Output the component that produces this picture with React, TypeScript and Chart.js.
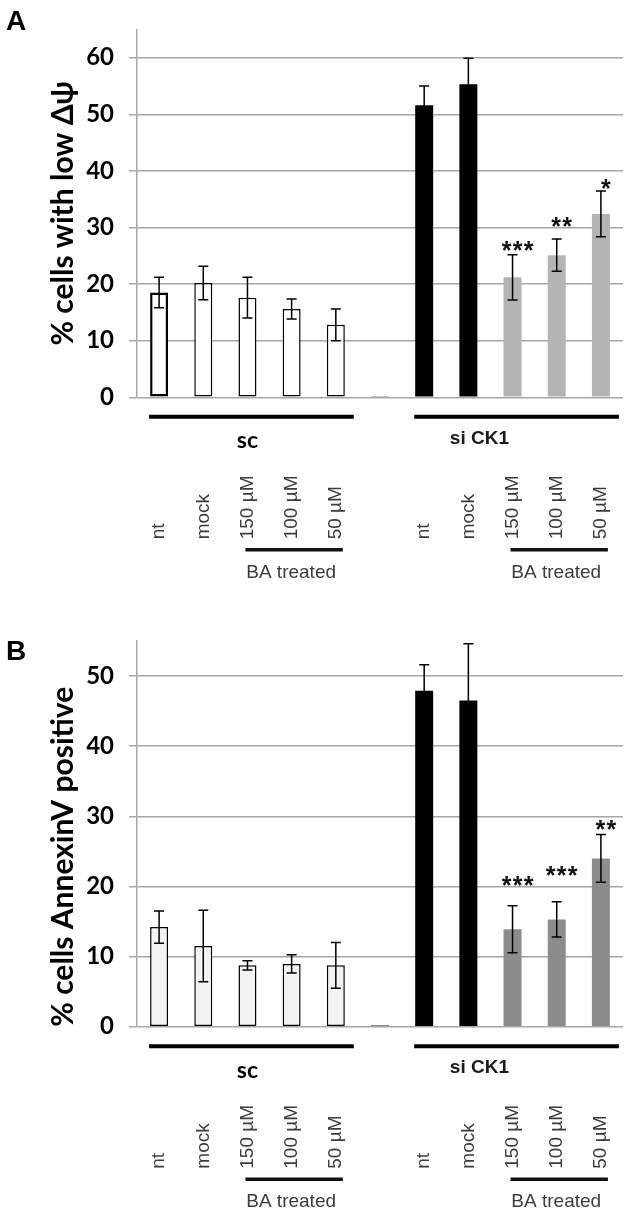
import React, { useEffect, useRef } from 'react';
import { Chart, registerables } from 'chart.js';

Chart.register(...registerables);

// ---------- data ----------
const categories = ['nt', 'mock', '150 µM', '100 µM', '50 µM', '', 'nt', 'mock', '150 µM', '100 µM', '50 µM'];
const groupNames = ['sc', 'si CK1'];
const groupRanges = [[0, 4], [6, 10]];
const treatedLabel = 'BA treated';
const treatedRanges = [[2, 4], [8, 10]];

const valuesA = [18.5, 20.2, 17.6, 15.6, 12.8, 0.25, 51.6, 55.3, 21.2, 25.1, 32.4];
const errorsA = [2.7, 2.95, 3.6, 1.75, 2.8, 0, 3.4, 4.6, 4.0, 2.85, 4.05];
const starsA = ['', '', '', '', '', '', '', '', '***', '**', '*'];
const starLevelsA = [0, 0, 0, 0, 0, 0, 0, 0, 27.0, 31.3, 38.1];
const yTicksA = [0, 10, 20, 30, 40, 50, 60];

const valuesB = [14.2, 11.5, 8.75, 8.95, 8.75, 0.25, 47.9, 46.5, 13.9, 15.3, 24.0];
const errorsB = [2.3, 5.1, 0.65, 1.3, 3.25, 0, 3.7, 8.1, 3.35, 2.5, 3.4];
const starsB = ['', '', '', '', '', '', '', '', '***', '***', '**'];
const starLevelsB = [0, 0, 0, 0, 0, 0, 0, 0, 21.0, 22.5, 29.1];
const yTicksB = [0, 10, 20, 30, 40, 50];

// ---------- styles ----------
const GRID = '#a6a6a6';
const ARIAL = '"Liberation Sans", Arial, sans-serif';
const LATO = 'Lato, "Open Sans", sans-serif';

function makeAnnotPlugin(cfg: any) {
  return {
    id: 'annot' + cfg.letter,
    afterDraw(chart: any) {
      const ctx = chart.ctx;
      const xs = chart.scales.x;
      const ys = chart.scales.y;
      const meta = chart.getDatasetMeta(0);
      const base = chart.chartArea.bottom;
      ctx.save();
      // error bars
      ctx.strokeStyle = '#000';
      ctx.lineWidth = 1.5;
      cfg.values.forEach((v: number, i: number) => {
        const e = cfg.errors[i];
        if (!e) return;
        const x = meta.data[i].x;
        const yt = ys.getPixelForValue(v + e);
        const yb = ys.getPixelForValue(v - e);
        ctx.beginPath();
        ctx.moveTo(x, yt); ctx.lineTo(x, yb);
        ctx.moveTo(x - 5, yt); ctx.lineTo(x + 5, yt);
        ctx.moveTo(x - 5, yb); ctx.lineTo(x + 5, yb);
        ctx.stroke();
      });
      // stars (each asterisk spaced like the original)
      const starSize = 25;
      const starGap = 11;
      ctx.fillStyle = '#111';
      ctx.font = `bold ${starSize}px ${ARIAL}`;
      ctx.textAlign = 'center';
      ctx.textBaseline = 'alphabetic';
      cfg.stars.forEach((s: string, i: number) => {
        if (!s) return;
        const cx = meta.data[i].x + 5;
        const y = ys.getPixelForValue(cfg.starLevels[i]) + 0.6 * starSize;
        const n = s.length;
        for (let k = 0; k < n; k++) {
          ctx.fillText('*', cx + (k - (n - 1) / 2) * starGap, y);
        }
      });
      // panel letter
      ctx.fillStyle = '#000';
      ctx.font = `bold 28px ${ARIAL}`;
      ctx.textAlign = 'left';
      ctx.fillText(cfg.letter, 6, cfg.letterBaseline);
      // group lines & names
      groupRanges.forEach((r) => {
        const x0 = xs.getPixelForValue(r[0]) - 10;
        const x1 = xs.getPixelForValue(r[1]) + 18;
        ctx.lineWidth = 4;
        ctx.strokeStyle = '#000';
        ctx.beginPath();
        ctx.moveTo(x0, base + 19.5); ctx.lineTo(x1, base + 19.5);
        ctx.stroke();
      });
      ctx.textAlign = 'center';
      ctx.fillStyle = '#000';
      ctx.font = `bold 23px ${LATO}`;
      ctx.fillText(groupNames[0], xs.getPixelForValue(2), base + 51);
      ctx.fillStyle = '#1a1a1a';
      ctx.font = `bold 19px ${ARIAL}`;
      ctx.fillText(groupNames[1], xs.getPixelForValue(7.25), base + 46.5);
      // rotated category labels
      ctx.fillStyle = '#3c3c3c';
      ctx.font = `19px ${ARIAL}`;
      categories.forEach((c, i) => {
        if (!c) return;
        const x = xs.getPixelForValue(i);
        ctx.save();
        ctx.translate(x, base + 142);
        ctx.rotate(-Math.PI / 2);
        ctx.textAlign = 'left';
        ctx.textBaseline = 'middle';
        ctx.fillText(c, 0, 0);
        ctx.restore();
      });
      // treated lines & labels
      treatedRanges.forEach((r) => {
        const x0 = xs.getPixelForValue(r[0]) - 2;
        const x1 = xs.getPixelForValue(r[1]) + 7;
        ctx.lineWidth = 3.5;
        ctx.strokeStyle = '#111';
        ctx.beginPath();
        ctx.moveTo(x0, base + 152.5); ctx.lineTo(x1, base + 152.5);
        ctx.stroke();
        ctx.fillStyle = '#3c3c3c';
        ctx.font = `19px ${ARIAL}`;
        ctx.textAlign = 'center';
        ctx.textBaseline = 'alphabetic';
        ctx.fillText(treatedLabel, (x0 + x1) / 2 - 3, base + 180.5);
      });
      ctx.restore();
    },
  };
}

function makeConfig(p: any) {
  return {
    type: 'bar',
    data: {
      labels: categories,
      datasets: [
        {
          data: p.values,
          backgroundColor: p.fills,
          borderColor: p.borders,
          borderWidth: p.borderWidths,
          borderSkipped: false,
          barPercentage: 0.407,
          categoryPercentage: 1,
        },
      ],
    },
    options: {
      responsive: false,
      animation: false,
      devicePixelRatio: 1,
      layout: { padding: { left: 0, right: 9, top: p.top, bottom: p.height - p.bottom } },
      plugins: { legend: { display: false }, tooltip: { enabled: false }, title: { display: false } },
      scales: {
        x: { type: 'category', display: false, offset: true, grid: { display: false } },
        y: {
          min: 0,
          max: p.max,
          afterBuildTicks: (s: any) => {
            s.ticks = p.ticks.map((v: number) => ({ value: v }));
          },
          afterFit: (s: any) => {
            s.width = 137;
          },
          ticks: {
            font: { family: LATO, weight: 'bold', size: 24 },
            color: '#000',
            padding: 15,
          },
          grid: { color: GRID, lineWidth: 1.5, tickLength: 8, tickColor: GRID, drawTicks: true },
          border: { color: GRID, width: 1.5 },
          title: {
            display: true,
            text: p.title,
            align: p.titleAlign,
            font: { family: LATO, weight: 'bold', size: 30 },
            color: '#000',
            padding: { top: 45, bottom: 0 },
          },
        },
      },
    },
    plugins: [makeAnnotPlugin(p)],
  };
}

const panelA = {
  letter: 'A',
  letterBaseline: 30,
  values: valuesA,
  errors: errorsA,
  stars: starsA,
  starLevels: starLevelsA,
  ticks: yTicksA,
  max: 65,
  title: '% cells with low Δψ',
  titleAlign: 'center',
  height: 600,
  top: 9.5,
  bottom: 397.3,
  fills: ['#ffffff', '#ffffff', '#ffffff', '#ffffff', '#ffffff', '#8a8a8a', '#000000', '#000000', '#b4b4b4', '#b4b4b4', '#b4b4b4'],
  borders: ['#000', '#000', '#000', '#000', '#000', '#8a8a8a', '#000', '#000', '#b4b4b4', '#b4b4b4', '#b4b4b4'],
  borderWidths: [2.5, 1.5, 1.5, 1.5, 1.5, 0, 0, 0, 0, 0, 0],
};

const panelB = {
  letter: 'B',
  letterBaseline: 60,
  values: valuesB,
  errors: errorsB,
  stars: starsB,
  starLevels: starLevelsB,
  ticks: yTicksB,
  max: 55,
  title: '% cells AnnexinV positive',
  titleAlign: 'start',
  height: 613,
  top: 41,
  bottom: 426.7,
  fills: ['#f2f2f2', '#f2f2f2', '#f2f2f2', '#f2f2f2', '#f2f2f2', '#8a8a8a', '#000000', '#000000', '#8c8c8c', '#8c8c8c', '#8c8c8c'],
  borders: ['#000', '#000', '#000', '#000', '#000', '#8a8a8a', '#000', '#000', '#8c8c8c', '#8c8c8c', '#8c8c8c'],
  borderWidths: [1.5, 1.5, 1.5, 1.5, 1.5, 0, 0, 0, 0, 0, 0],
};

export default function App() {
  const refA = useRef<HTMLCanvasElement>(null);
  const refB = useRef<HTMLCanvasElement>(null);
  useEffect(() => {
    const a = new Chart(refA.current as any, makeConfig(panelA) as any);
    const b = new Chart(refB.current as any, makeConfig(panelB) as any);
    return () => {
      a.destroy();
      b.destroy();
    };
  }, []);
  return (
    <div style={{ position: 'absolute', left: 0, top: 0, width: 632, height: 1213, background: '#fff' }}>
      <canvas ref={refA} width={632} height={600} style={{ position: 'absolute', left: 0, top: 0, width: 632, height: 600 }} />
      <canvas ref={refB} width={632} height={613} style={{ position: 'absolute', left: 0, top: 600, width: 632, height: 613 }} />
    </div>
  );
}
